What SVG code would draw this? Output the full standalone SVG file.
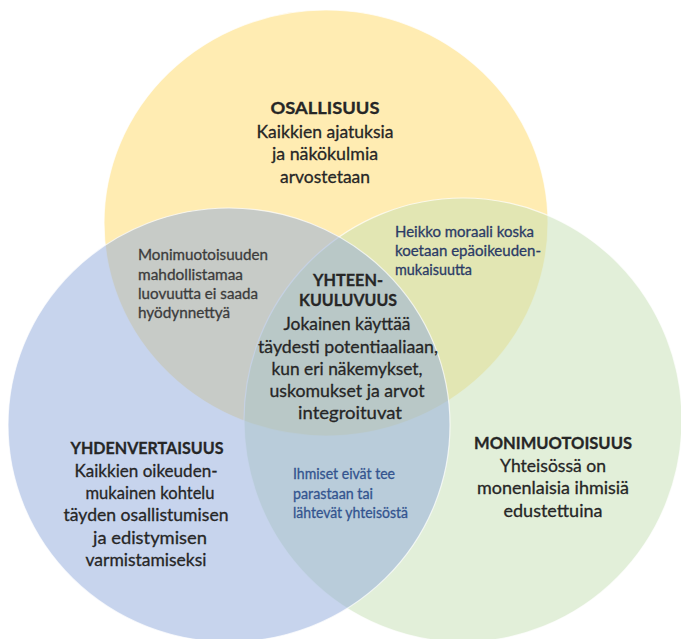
<svg xmlns="http://www.w3.org/2000/svg" width="681" height="639" viewBox="0 0 681 639">
  <style>
    .set { stroke: #ffffff; stroke-width: 1.2; stroke-opacity: 0.7; }
    .t { font-family: Lato, "Liberation Sans", sans-serif; fill: #262626; stroke: #262626; stroke-width: 0.3; }
    .head { font-size: 17.5px; font-weight: 700; text-anchor: middle; }
    .body { font-size: 18px; text-anchor: middle; }
    .note { font-size: 14.8px; text-anchor: start; }
    .gray { fill: #3c3c3c; stroke: #3c3c3c; }
    .navy { fill: #2b3b66; stroke: #2b3b66; }
    .blue { fill: #33548f; stroke: #33548f; }
  </style>
  <rect width="681" height="639" fill="#ffffff"/>

  <!-- the three overlapping sets -->
  <g id="set-osallisuus">
    <ellipse class="set" cx="326" cy="223" rx="222" ry="213" fill="#FFD966" fill-opacity="0.5"/>
  </g>
  <g id="set-monimuotoisuus">
    <ellipse class="set" cx="463" cy="420" rx="219" ry="222" fill="#C5E0B4" fill-opacity="0.5"/>
  </g>
  <g id="set-yhdenvertaisuus">
    <ellipse class="set" cx="229" cy="425" rx="221" ry="217" fill="#8FAADC" fill-opacity="0.5"/>
  </g>

  <g id="connectors"></g>

  <!-- labels -->
  <g id="label-osallisuus" class="t">
    <text class="head" x="325" y="114" textLength="109" lengthAdjust="spacingAndGlyphs">OSALLISUUS</text>
    <text class="body" x="325" y="138" textLength="137" lengthAdjust="spacingAndGlyphs">Kaikkien ajatuksia</text>
    <text class="body" x="325" y="160" textLength="106" lengthAdjust="spacingAndGlyphs">ja näkökulmia</text>
    <text class="body" x="325" y="183" textLength="90" lengthAdjust="spacingAndGlyphs">arvostetaan</text>
  </g>

  <g id="label-yhteenkuuluvuus" class="t">
    <text class="head" x="348" y="286" textLength="70" lengthAdjust="spacingAndGlyphs">YHTEEN-</text>
    <text class="head" x="348" y="306" textLength="98" lengthAdjust="spacingAndGlyphs">KUULUVUUS</text>
    <text class="body" x="347" y="330" textLength="127" lengthAdjust="spacingAndGlyphs">Jokainen käyttää</text>
    <text class="body" x="348" y="353" textLength="180" lengthAdjust="spacingAndGlyphs">täydesti potentiaaliaan,</text>
    <text class="body" x="347" y="375" textLength="151" lengthAdjust="spacingAndGlyphs">kun eri näkemykset,</text>
    <text class="body" x="347" y="397" textLength="155" lengthAdjust="spacingAndGlyphs">uskomukset ja arvot</text>
    <text class="body" x="350" y="419" textLength="104" lengthAdjust="spacingAndGlyphs">integroituvat</text>
  </g>

  <g id="label-yhdenvertaisuus" class="t">
    <text class="head" x="147" y="454" textLength="153" lengthAdjust="spacingAndGlyphs">YHDENVERTAISUUS</text>
    <text class="body" x="146" y="477" textLength="143" lengthAdjust="spacingAndGlyphs">Kaikkien oikeuden-</text>
    <text class="body" x="150" y="499" textLength="129" lengthAdjust="spacingAndGlyphs">mukainen kohtelu</text>
    <text class="body" x="146" y="521" textLength="165" lengthAdjust="spacingAndGlyphs">täyden osallistumisen</text>
    <text class="body" x="150" y="544" textLength="114" lengthAdjust="spacingAndGlyphs">ja edistymisen</text>
    <text class="body" x="146" y="566" textLength="121" lengthAdjust="spacingAndGlyphs">varmistamiseksi</text>
  </g>

  <g id="label-monimuotoisuus" class="t">
    <text class="head" x="553" y="449" textLength="158" lengthAdjust="spacingAndGlyphs">MONIMUOTOISUUS</text>
    <text class="body" x="553" y="472" textLength="106" lengthAdjust="spacingAndGlyphs">Yhteisössä on</text>
    <text class="body" x="553" y="494" textLength="152" lengthAdjust="spacingAndGlyphs">monenlaisia ihmisiä</text>
    <text class="body" x="553" y="517" textLength="99" lengthAdjust="spacingAndGlyphs">edustettuina</text>
  </g>

  <!-- notes in the pairwise overlaps -->
  <g id="note-yellow-blue" class="t gray">
    <text class="note" x="138" y="260" textLength="130" lengthAdjust="spacingAndGlyphs">Monimuotoisuuden</text>
    <text class="note" x="138" y="280" textLength="105" lengthAdjust="spacingAndGlyphs">mahdollistamaa</text>
    <text class="note" x="138" y="299" textLength="120" lengthAdjust="spacingAndGlyphs">luovuutta ei saada</text>
    <text class="note" x="138" y="318" textLength="92" lengthAdjust="spacingAndGlyphs">hyödynnettyä</text>
  </g>

  <g id="note-yellow-green" class="t navy">
    <text class="note" x="395" y="237" textLength="139" lengthAdjust="spacingAndGlyphs">Heikko moraali koska</text>
    <text class="note" x="395" y="256" textLength="146" lengthAdjust="spacingAndGlyphs">koetaan epäoikeuden-</text>
    <text class="note" x="395" y="275" textLength="77" lengthAdjust="spacingAndGlyphs">mukaisuutta</text>
  </g>

  <g id="note-blue-green" class="t blue">
    <text class="note" x="293" y="479" textLength="102" lengthAdjust="spacingAndGlyphs">Ihmiset eivät tee</text>
    <text class="note" x="293" y="499" textLength="80" lengthAdjust="spacingAndGlyphs">parastaan tai</text>
    <text class="note" x="293" y="518" textLength="115" lengthAdjust="spacingAndGlyphs">lähtevät yhteisöstä</text>
  </g>
</svg>
